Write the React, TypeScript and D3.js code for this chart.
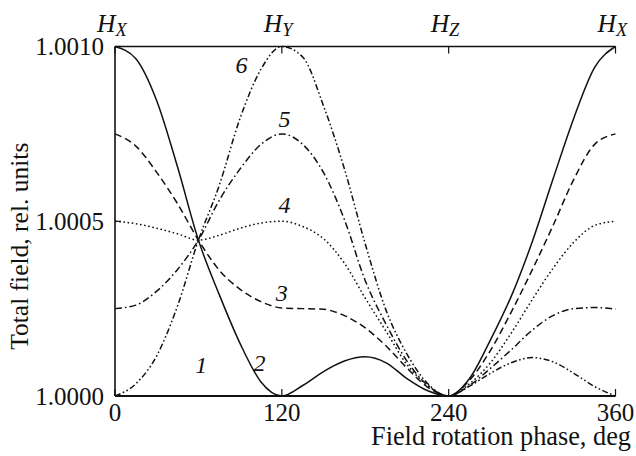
import * as d3 from "d3";

// phase grid, deg
const phase = [0, 15, 30, 45, 60, 75, 90, 105, 120, 135, 150, 165, 180, 195, 210, 225, 240, 255, 270, 285, 300, 315, 330, 345, 360];

// deviation of the total field from 1, in units of 1e-4
const curve2 = [10, 9.65, 8.45, 6.55, 4.46, 2.9, 1.5, 0.4, 0, 0.3, 0.7, 1.0, 1.12, 0.95, 0.5, 0.15, 0, 0.5, 1.6, 2.85, 4.4, 6.2, 7.95, 9.4, 10];
const curve3 = [7.5, 7.15, 6.4, 5.5, 4.46, 3.6, 3.05, 2.7, 2.52, 2.5, 2.48, 2.3, 1.95, 1.43, 0.8, 0.25, 0, 0.45, 1.3, 2.4, 3.6, 4.87, 6.2, 7.2, 7.5];
const curve4 = [5.0, 4.93, 4.8, 4.64, 4.46, 4.6, 4.8, 4.95, 5.0, 4.85, 4.5, 3.8, 2.8, 1.85, 0.9, 0.3, 0, 0.35, 0.95, 1.8, 2.75, 3.65, 4.4, 4.88, 5.0];
const curve5 = [2.5, 2.6, 3.0, 3.62, 4.46, 5.6, 6.5, 7.2, 7.5, 7.2, 6.39, 5.05, 3.3, 2.05, 1.0, 0.3, 0, 0.3, 0.79, 1.32, 1.88, 2.3, 2.5, 2.53, 2.49];
const curve6 = [0, 0.35, 1.15, 2.58, 4.46, 6.03, 7.95, 9.35, 10, 9.7, 8.3, 6.5, 4.35, 2.45, 1.2, 0.35, 0, 0.28, 0.65, 0.95, 1.1, 0.98, 0.65, 0.27, 0];

const xTicks = [0, 120, 240, 360];
const xTickLabels = ["0", "120", "240", "360"];
const topLabels = [["H", "X"], ["H", "Y"], ["H", "Z"], ["H", "X"]];
const yTicks = [1.0, 1.0005, 1.001];
const yTickLabels = ["1.0000", "1.0005", "1.0010"];

// curve number labels, placed in data coordinates
const curveLabels = ["1", "2", "3", "4", "5", "6"];
const curveLabelPhase = [62, 104, 120, 122, 122, 91];
const curveLabelValue = [1.0000657, 1.0000714, 1.000271, 1.000523, 1.000769, 1.000923];

const W = 636;
const H = 456;
const font = "'Liberation Serif', 'Times New Roman', serif";

const x = d3.scaleLinear().domain([0, 360]).range([115, 615.5]);
const y = d3.scaleLinear().domain([1.0, 1.001]).range([396, 46.5]);

const series = [
  { values: curve2, dash: "none" },
  { values: curve3, dash: "7 4" },
  { values: curve4, dash: "1.6 2.6" },
  { values: curve5, dash: "7 3 1.6 3" },
  { values: curve6, dash: "6 2.5 1.6 2.5 1.6 2.5" },
];

const line = d3
  .line<[number, number]>()
  .x((d) => x(d[0]))
  .y((d) => y(1 + d[1] * 1e-4))
  .curve(d3.curveMonotoneX);

export default function App() {
  const [x0, x1] = x.range();
  const [yb, yt] = y.range();
  return (
    <div style={{ position: "absolute", left: 0, top: 0 }}>
      <svg width={W} height={H} style={{ display: "block", background: "#fff" }}>
        {series.map((s, i) => (
          <path
            key={i}
            d={line(phase.map((p, j) => [p, s.values[j]] as [number, number])) || ""}
            fill="none"
            stroke="#111"
            strokeWidth={1.5}
            strokeDasharray={s.dash}
          />
        ))}

        {/* frame: left, top, bottom */}
        <line x1={x0} x2={x0} y1={yb} y2={yt} stroke="#111" strokeWidth={1.6} />
        <line x1={x0} x2={x1} y1={yt} y2={yt} stroke="#111" strokeWidth={1.4} />
        <line x1={x0} x2={x1} y1={yb} y2={yb} stroke="#111" strokeWidth={2} />

        {xTicks.map((t, i) => (
          <g key={"xt" + i}>
            <line x1={x(t)} x2={x(t)} y1={yb} y2={yb - 7} stroke="#111" strokeWidth={1.2} />
            <line x1={x(t)} x2={x(t)} y1={yt} y2={yt + 7} stroke="#111" strokeWidth={1.2} />
            <text x={x(t)} y={421} textAnchor="middle" fontFamily={font} fontSize={25} fill="#111">
              {xTickLabels[i]}
            </text>
            <text x={x(t) - 18} y={32} fontFamily={font} fontSize={25.5} fontStyle="italic" fill="#111">
              {topLabels[i][0]}
              <tspan fontSize={18.5} dy={3.5}>{topLabels[i][1]}</tspan>
            </text>
          </g>
        ))}

        {yTicks.map((t, i) => (
          <g key={"yt" + i}>
            <line x1={x0} x2={x0 + 6} y1={y(t)} y2={y(t)} stroke="#111" strokeWidth={1.2} />
            <text
              x={x0 - 11}
              y={y(t)}
              dy="0.34em"
              textAnchor="end"
              fontFamily={font}
              fontSize={25}
              fill="#111"
            >
              {yTickLabels[i]}
            </text>
          </g>
        ))}

        {curveLabels.map((c, i) => (
          <text
            key={"cl" + i}
            x={x(curveLabelPhase[i])}
            y={y(curveLabelValue[i])}
            textAnchor="middle"
            fontFamily={font}
            fontSize={24}
            fontStyle="italic"
            fill="#111"
          >
            {c}
          </text>
        ))}

        <text x={631} y={445} textAnchor="end" fontFamily={font} fontSize={26.3} fill="#111">
          Field rotation phase, deg
        </text>
        <text
          transform={`translate(28,${(yb + yt) / 2 + 25}) rotate(-90)`}
          textAnchor="middle"
          fontFamily={font}
          fontSize={25.5}
          fill="#111"
        >
          Total field, rel. units
        </text>
      </svg>
    </div>
  );
}
